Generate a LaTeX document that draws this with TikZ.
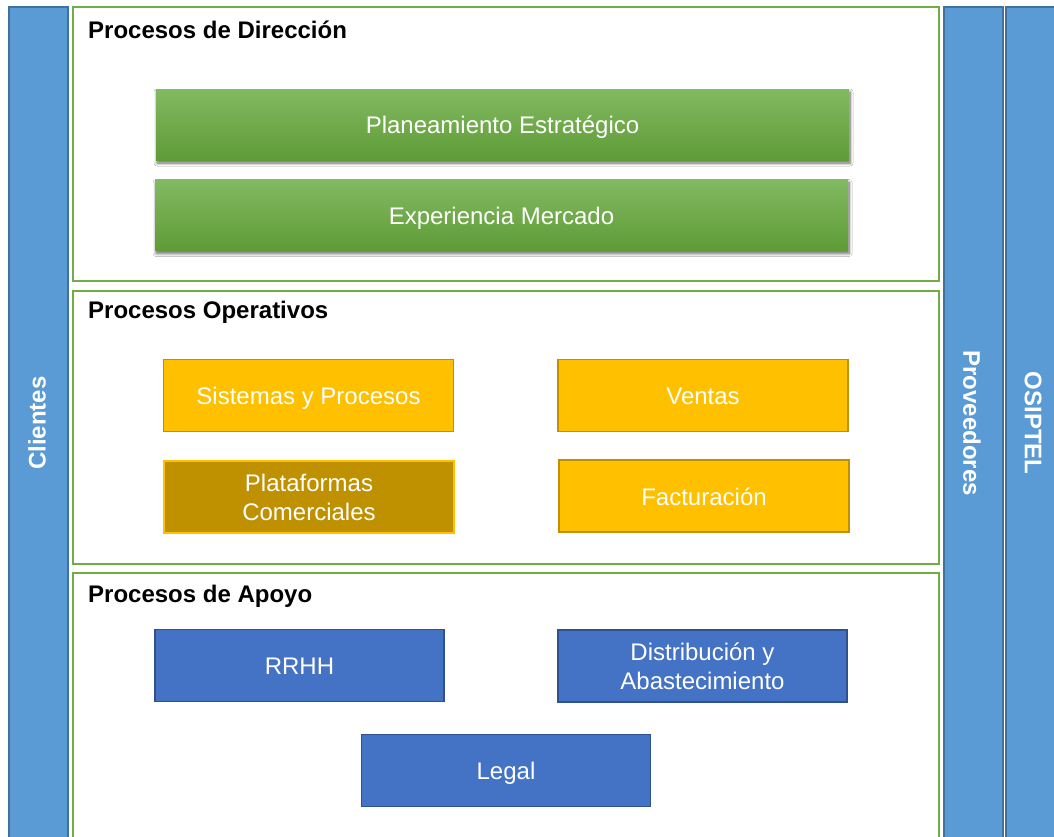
\documentclass[tikz,border=0pt]{standalone}
\usepackage{fontspec}
\setmainfont{Liberation Sans}
\usetikzlibrary{shadows,shadows.blur}
\definecolor{colfill}{HTML}{5B9BD5}
\definecolor{colline}{HTML}{41719C}
\definecolor{frgreen}{HTML}{70AD47}
\definecolor{gtop}{HTML}{82BA62}
\definecolor{gbot}{HTML}{5F9B36}
\definecolor{yel}{HTML}{FFC000}
\definecolor{gold}{HTML}{BF9000}
\definecolor{bluebox}{HTML}{4472C4}
\definecolor{blueline}{HTML}{2F528F}
\tikzset{
  sidecol/.style={draw=colline, fill=colfill, line width=2pt, inner sep=0pt},
  sidetext/.style={text=white, font=\fontsize{24}{28}\selectfont\bfseries},
  frame/.style={draw=frgreen, line width=2pt, inner sep=0pt},
  title/.style={anchor=west, font=\fontsize{24}{28}\selectfont\bfseries, inner sep=0pt},
  one/.style={text height=18pt, text depth=0pt},
  greenbox/.style={top color=gtop, bottom color=gbot, draw=none, text=white,
    font=\fontsize{24}{29}\selectfont, minimum width=693pt, minimum height=71pt,
    blur shadow={shadow xshift=1pt, shadow yshift=-3pt, shadow opacity=60, shadow blur radius=3pt, shadow blur steps=8}},
  yelbox/.style={fill=yel, draw=gold, line width=1.5pt, text=white, align=center,
    font=\fontsize{24}{29}\selectfont, minimum width=290pt, minimum height=72pt},
  goldbox/.style={fill=gold, draw=yel, line width=1.5pt, text=white, align=center,
    font=\fontsize{24}{29}\selectfont, minimum width=290pt, minimum height=72pt},
  bluebx/.style={fill=bluebox, draw=blueline, line width=1.5pt, text=white, align=center,
    font=\fontsize{24}{29}\selectfont, minimum width=289pt, minimum height=72pt},
}
\begin{document}
\begin{tikzpicture}[x=1pt, y=-1pt]
\useasboundingbox (0,0) rectangle (1054,836);
\clip (0,0) rectangle (1054,836);
\fill[white] (0,0) rectangle (1054,836);
% side columns
\node[sidecol, minimum width=59pt, minimum height=850pt, anchor=north west] (clientes) at (8,6) {};
\node[sidecol, minimum width=59pt, minimum height=850pt, anchor=north west] (proveedores) at (943,6) {};
\node[sidecol, minimum width=80pt, minimum height=850pt, anchor=north west] (osiptel) at (1005,6) {};
\node[sidetext, rotate=90] (tclientes) at (37,423) {Clientes};
\node[sidetext, rotate=-90] (tprov) at (972,423) {Proveedores};
\node[sidetext, rotate=-90] (tosip) at (1033,423) {OSIPTEL};
% frames
\node[frame, minimum width=866pt, minimum height=274pt, anchor=north west] (fdir) at (72,6) {};
\node[frame, minimum width=866pt, minimum height=273pt, anchor=north west] (fop) at (72,290) {};
\node[frame, minimum width=866pt, minimum height=290pt, anchor=north west] (fapo) at (72,572) {};
\node[title] (tdir) at (88,29.5) {Procesos de Dirección};
\node[title] (top) at (88,312.5) {Procesos Operativos};
\node[title] (tapo) at (88,596.5) {Procesos de Apoyo};
% direction
\node[greenbox, one] (plan) at (502.5,124.5) {Planeamiento Estratégico};
\node[greenbox, one] (exp) at (501.5,215) {Experiencia Mercado};
% operativos
\node[yelbox, one] (sis) at (308.5,395.5) {Sistemas y Procesos};
\node[goldbox] (plat) at (309,497) {Plataformas\\Comerciales};
\node[yelbox, one] (ven) at (703,395.5) {Ventas};
\node[yelbox, one] (fac) at (704,496) {Facturación};
% apoyo
\node[bluebx, one] (rrhh) at (299.5,665.5) {RRHH};
\node[bluebx] (dist) at (702.5,666) {Distribución y\\Abastecimiento};
\node[bluebx, one] (legal) at (506,770.5) {Legal};
\end{tikzpicture}
\end{document}
